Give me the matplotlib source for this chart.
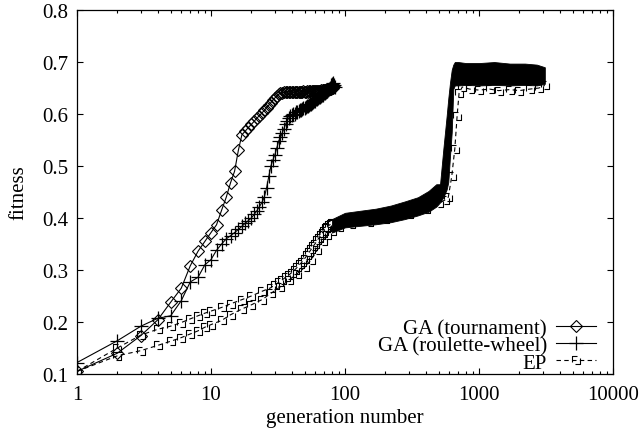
import matplotlib

matplotlib.use("Agg")
import matplotlib.pyplot as plt
from matplotlib.lines import Line2D
from matplotlib.path import Path
from matplotlib.ticker import FixedLocator, FuncFormatter, LogLocator, NullFormatter

plt.rcParams["font.family"] = ["Liberation Serif", "DejaVu Serif"]
FS = 15

# GA (tournament), one value per generation starting at 1
fit_tour = [0.105, 0.140, 0.174, 0.204, 0.238, 0.265, 0.308, 0.336, 0.355, 0.372,
            0.387, 0.415, 0.440, 0.468, 0.490, 0.530, 0.560, 0.567, 0.574, 0.580,
            0.586, 0.592, 0.597, 0.602, 0.607, 0.612, 0.617, 0.622, 0.627, 0.631,
            0.635, 0.638, 0.640, 0.641, 0.642, 0.642, 0.643, 0.642, 0.643, 0.643,
            0.642, 0.643, 0.643, 0.643, 0.642, 0.643, 0.643, 0.643, 0.644, 0.643,
            0.643, 0.644, 0.643, 0.644, 0.644, 0.643, 0.644, 0.644, 0.644, 0.645,
            0.644, 0.645, 0.645, 0.644, 0.645, 0.646, 0.645, 0.646, 0.646, 0.647,
            0.646, 0.647, 0.648, 0.647, 0.648, 0.649, 0.648, 0.650, 0.649, 0.651,
            0.650, 0.652]

# GA (roulette-wheel), one value per generation starting at 1
fit_roul = [0.122, 0.164, 0.192, 0.207, 0.212, 0.241, 0.277, 0.286, 0.310, 0.320,
            0.338, 0.350, 0.360, 0.366, 0.372, 0.378, 0.384, 0.390, 0.395, 0.400,
            0.407, 0.414, 0.422, 0.430, 0.440, 0.458, 0.480, 0.500, 0.512, 0.522,
            0.535, 0.548, 0.555, 0.563, 0.572, 0.580, 0.587, 0.592, 0.596, 0.598,
            0.600, 0.601, 0.603, 0.604, 0.605, 0.607, 0.608, 0.609, 0.611, 0.612,
            0.613, 0.615, 0.616, 0.617, 0.619, 0.620, 0.622, 0.623, 0.625, 0.626,
            0.628, 0.629, 0.630, 0.632, 0.633, 0.634, 0.636, 0.637, 0.638, 0.640,
            0.641, 0.642, 0.644, 0.645, 0.646, 0.648, 0.650, 0.655, 0.652, 0.658,
            0.654, 0.660, 0.655, 0.652]

# EP, upper run (sparse part before it gets dense)
ep_gen_a = [1, 2, 3, 4, 5, 6, 7, 8, 9, 10, 12, 14, 17, 20, 24, 28, 30, 32, 34, 36,
            38, 40, 42, 44, 46, 48, 50, 52, 54, 56, 58, 60, 62, 64, 66, 68, 70, 72,
            74, 76, 78, 80]
ep_fit_a = [0.105, 0.150, 0.175, 0.186, 0.192, 0.199, 0.206, 0.212, 0.217, 0.221,
            0.228, 0.235, 0.243, 0.250, 0.259, 0.266, 0.272, 0.276, 0.281, 0.286,
            0.290, 0.295, 0.300, 0.305, 0.311, 0.316, 0.322, 0.328, 0.334, 0.340,
            0.346, 0.351, 0.357, 0.362, 0.367, 0.372, 0.376, 0.380, 0.383, 0.386,
            0.388, 0.390]

# EP, dense part of the upper run: drawn as a filled band
ep_band_gen = [80, 100, 130, 170, 220, 280, 350, 420, 480, 512, 542, 574, 590, 608,
               626, 643, 660, 700, 800, 1000, 1300, 1700, 2200, 2700, 3100]
ep_band_lo = [0.372, 0.382, 0.385, 0.388, 0.392, 0.398, 0.405, 0.412, 0.422, 0.430,
              0.440, 0.455, 0.469, 0.520, 0.565, 0.648, 0.655, 0.655, 0.656, 0.655,
              0.656, 0.655, 0.656, 0.655, 0.658]
ep_band_hi = [0.398, 0.410, 0.414, 0.418, 0.424, 0.432, 0.440, 0.452, 0.465, 0.465,
              0.533, 0.597, 0.630, 0.661, 0.685, 0.695, 0.700, 0.700, 0.698, 0.698,
              0.700, 0.697, 0.697, 0.695, 0.690]

# EP, lower run
ep_gen_b = [1, 2, 3, 4, 5, 6, 7, 8, 9, 10, 12, 14, 17, 20, 24, 28, 33, 38, 44, 50,
            56, 62, 68, 74, 80, 90, 110, 150, 200, 300, 400, 500, 560, 590, 626, 660,
            687, 710, 750, 850, 1000, 1200, 1400, 1700, 2000, 2400, 2800, 3100]
ep_fit_b = [0.105, 0.135, 0.145, 0.155, 0.163, 0.170, 0.177, 0.183, 0.190, 0.195,
            0.203, 0.214, 0.225, 0.233, 0.243, 0.255, 0.268, 0.280, 0.293, 0.305,
            0.320, 0.338, 0.355, 0.368, 0.375, 0.382, 0.388, 0.393, 0.398, 0.408,
            0.418, 0.428, 0.435, 0.440, 0.480, 0.533, 0.597, 0.640, 0.652, 0.648,
            0.646, 0.648, 0.645, 0.647, 0.645, 0.648, 0.650, 0.655]

gen_tour = range(1, len(fit_tour) + 1)
gen_roul = range(1, len(fit_roul) + 1)

# square outline broken into dashes, like gnuplot's dashed point
_seg = [((-1, 1), (0.2, 1)), ((1, 0.4), (1, -1)), ((1, -1), (-0.2, -1)), ((-1, -0.4), (-1, 1))]
_verts, _codes = [], []
for a, b in _seg:
    _verts += [a, b]
    _codes += [Path.MOVETO, Path.LINETO]
DASH_SQ = Path(_verts, _codes)

fig = plt.figure(figsize=(6.41, 4.31), dpi=100)
ax = fig.add_axes([0.1201, 0.1299, 0.8362, 0.8445])

ax.plot(gen_tour, fit_tour, color="black", lw=0.8, marker="D", ms=6, mfc="none",
        mec="black", mew=0.8)
ax.plot(gen_roul, fit_roul, color="black", lw=0.8, marker="+", ms=10, mew=0.9)

ep_kw = dict(color="black", lw=0.8, dashes=(4, 3), marker=DASH_SQ, ms=6,
             mfc="none", mec="black", mew=0.8)
ax.plot(ep_gen_a, ep_fit_a, **ep_kw)
ax.fill_between(ep_band_gen, ep_band_lo, ep_band_hi, color="black", lw=0.6)
ax.plot(ep_gen_b, ep_fit_b, **ep_kw)

ax.set_xscale("log")
ax.set_xlim(1, 10000)
ax.set_ylim(0.1, 0.8)
ax.xaxis.set_major_locator(FixedLocator([1, 10, 100, 1000, 10000]))
ax.xaxis.set_major_formatter(FuncFormatter(lambda v, p: f"{v:.0f}"))
ax.xaxis.set_minor_locator(LogLocator(base=10, subs=range(2, 10)))
ax.xaxis.set_minor_formatter(NullFormatter())
ax.set_yticks([0.1, 0.2, 0.3, 0.4, 0.5, 0.6, 0.7, 0.8])
ax.yaxis.set_major_formatter(FuncFormatter(lambda v, p: f"{v:.1f}"))
ax.tick_params(which="both", direction="in", top=True, right=True, width=0.8,
               labelsize=FS)
ax.tick_params(which="major", length=4)
ax.tick_params(which="minor", length=2)
ax.tick_params(axis="x", pad=8)
ax.tick_params(axis="y", pad=6.5)
for s in ax.spines.values():
    s.set_linewidth(0.9)

ax.set_xlabel("generation number", fontsize=FS, labelpad=3)
ax.set_ylabel("fitness", fontsize=FS, labelpad=10)

handles = [
    Line2D([], [], color="black", lw=0.8, marker="D", ms=6, mfc="none", mew=0.8),
    Line2D([], [], color="black", lw=0.8, marker="+", ms=10, mew=0.9),
    Line2D([], [], **ep_kw),
]
labels = ["GA (tournament)", "GA (roulette-wheel)", "EP"]
ax.legend(handles, labels, loc="lower right", bbox_to_anchor=(0.968, 0.004),
          frameon=False, markerfirst=False, numpoints=1, fontsize=FS,
          handlelength=1.9, handletextpad=0.45, labelspacing=-0.12,
          borderpad=0, borderaxespad=0)

fig.savefig("out.png", dpi=100)
plt.close(fig)
